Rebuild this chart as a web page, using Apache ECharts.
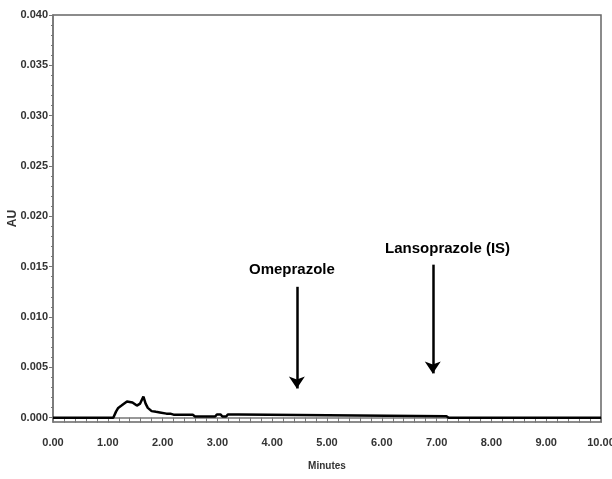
<!DOCTYPE html>
<html>
<head>
<meta charset="utf-8">
<script src="https://cdn.jsdelivr.net/npm/echarts@6/dist/echarts.min.js"></script>
<style>
  html, body { margin: 0; padding: 0; background: #fff; }
  #chart { width: 612px; height: 479px; }
</style>
</head>
<body>
<div id="chart"></div>
<script>
// 色谱图数据（时间，分钟 / 吸光度 AU）
const times = [0, 1.10, 1.15, 1.19, 1.25, 1.30, 1.35, 1.45, 1.53, 1.59, 1.65, 1.69, 1.73, 1.80, 1.88, 1.95, 2.07, 2.14, 2.17, 2.20, 2.55, 2.59, 2.96, 2.99, 3.06, 3.09, 3.16, 3.19, 3.38, 3.41, 7.18, 7.22, 10];
const auValues = [0, 0, 0.0006, 0.00097, 0.0012, 0.0014, 0.0016, 0.0015, 0.0012, 0.0014, 0.0021, 0.0014, 0.00097, 0.00065, 0.00058, 0.00052, 0.0004, 0.0004, 0.00048, 0.0003, 0.0003, 0.00012, 0.00012, 0.00032, 0.00032, 0.00012, 0.00012, 0.00032, 0.00032, 0.00015, 0.00015, 0, 0];

const yMajor = [0, 0.005, 0.010, 0.015, 0.020, 0.025, 0.030, 0.035, 0.040];
const yMinor = [0.001, 0.002, 0.003, 0.004, 0.006, 0.007, 0.008, 0.009, 0.011, 0.012, 0.013, 0.014,
  0.016, 0.017, 0.018, 0.019, 0.021, 0.022, 0.023, 0.024, 0.026, 0.027, 0.028, 0.029,
  0.031, 0.032, 0.033, 0.034, 0.036, 0.037, 0.038, 0.039];

// 峰标注：名称、文字位置、箭头起止
const peakNames = ["Omeprazole", "Lansoprazole (IS)"];
const labelPos = [[4.36, 0.0147], [7.2, 0.0168]];
const arrowFrom = [[4.45, 0.0130], [6.93, 0.0152]];
const arrowTo = [[4.45, 0.0029], [6.93, 0.0044]];

const tickFont = '"Liberation Sans Narrow", "Liberation Sans", Arial, sans-serif';

const chart = echarts.init(document.getElementById("chart"));

const option = {
  animation: false,
  grid: {
    left: 53, right: 11, top: 15, bottom: 57,
    outerBoundsMode: "none", containLabel: false,
    show: true, borderColor: "#666", borderWidth: 1.5, backgroundColor: "#fff"
  },
  xAxis: {
    type: "value", min: 0, max: 10, interval: 1,
    name: "Minutes", nameLocation: "middle", nameGap: 39, nameMoveOverlap: false,
    nameTextStyle: { fontFamily: tickFont, fontWeight: "bold", fontSize: 10, color: "#333" },
    axisLine: { lineStyle: { color: "#777", width: 1.5 } },
    axisTick: { show: true, length: 5, lineStyle: { color: "#777" } },
    minorTick: { show: true, splitNumber: 5, length: 5, lineStyle: { color: "#777" } },
    splitLine: { show: false },
    axisLabel: {
      margin: 15, fontFamily: tickFont, fontWeight: "bold", fontSize: 11, color: "#333",
      formatter: v => v.toFixed(2)
    }
  },
  yAxis: [{
    type: "value", min: -0.00043, max: 0.040,
    name: "AU", nameLocation: "middle", nameRotate: 90, nameGap: 34, nameMoveOverlap: false,
    nameTextStyle: { fontFamily: tickFont, fontWeight: "bold", fontSize: 12, color: "#333" },
    axisLine: { show: true, lineStyle: { color: "#777", width: 1.5 } },
    axisTick: { show: true, length: 4, customValues: yMajor, lineStyle: { color: "#777" } },
    splitLine: { show: false },
    axisLabel: {
      margin: 5, fontFamily: tickFont, fontWeight: "bold", fontSize: 11, color: "#333",
      customValues: yMajor, formatter: v => v.toFixed(3)
    }
  }, {
    type: "value", min: -0.00043, max: 0.040, position: "left",
    axisLine: { show: false },
    axisTick: { show: true, length: 2, customValues: yMinor, lineStyle: { color: "#777" } },
    axisLabel: { show: false },
    splitLine: { show: false }
  }],
  series: [{
    type: "line",
    data: times.map((t, i) => [t, auValues[i]]),
    showSymbol: false,
    lineStyle: { color: "#000", width: 2.5 },
    silent: true,
    markLine: {
      silent: true,
      symbol: ["none", "arrow"],
      symbolSize: 12,
      label: { show: false },
      lineStyle: { color: "#000", width: 2.5, type: "solid" },
      data: arrowFrom.map((p, i) => [{ coord: p }, { coord: arrowTo[i] }])
    },
    markPoint: {
      silent: true,
      symbol: "circle",
      symbolSize: 1,
      itemStyle: { color: "rgba(0,0,0,0)" },
      label: {
        show: true, position: "inside", formatter: "{b}",
        fontFamily: '"Liberation Sans", Arial, sans-serif', fontWeight: "bold", fontSize: 15, color: "#000"
      },
      data: peakNames.map((n, i) => ({ name: n, coord: labelPos[i] }))
    }
  }]
};

chart.setOption(option);
</script>
</body>
</html>
